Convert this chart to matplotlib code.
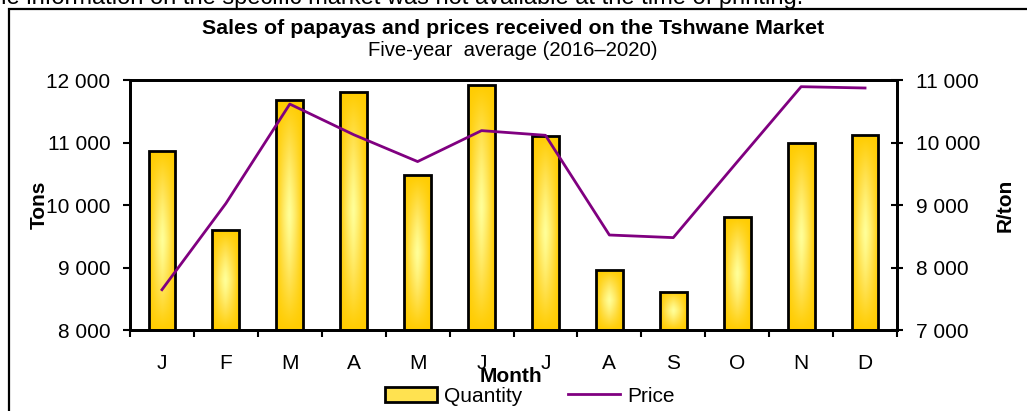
import numpy as np
import matplotlib
matplotlib.use("Agg")
import matplotlib.pyplot as plt
from matplotlib.colors import LinearSegmentedColormap
from matplotlib.patches import Rectangle
from matplotlib.ticker import FuncFormatter, MultipleLocator, FixedLocator

plt.rcParams['font.family'] = ['Liberation Sans', 'DejaVu Sans']

months = ["J", "F", "M", "A", "M", "J", "J", "A", "S", "O", "N", "D"]
quantity = [10870, 9595, 11675, 11810, 10480, 11915, 11110, 8960, 8612, 9805, 10990, 11115]
price = [7645, 9025, 10615, 10125, 9695, 10190, 10115, 8520, 8478, 9690, 10893, 10872]

W, H = 1027, 411
fig = plt.figure(figsize=(W / 100, H / 100), dpi=100)
ax = fig.add_axes([130 / W, 1 - 330 / H, (897 - 130) / W, (330 - 80) / H])
ax2 = ax.twinx()

x = np.arange(len(months))
bars = ax.bar(x, quantity, width=0.42, facecolor='none', edgecolor='black',
              linewidth=2.0, zorder=3)
ax.set_xlim(-0.5, len(months) - 0.5)
ax.set_ylim(8000, 12000)

cmap = LinearSegmentedColormap.from_list('gold', ['#FFFF99', '#FFE250', '#FFCC00'])
gu = np.linspace(-1, 1, 60)
gv = np.linspace(-1, 1, 200)
U, V = np.meshgrid(gu, gv)
grad = 1 - (1 - np.abs(U) ** 1.3) * (1 - np.abs(V) ** 1.3)
for b in bars:
    x0, w, h = b.get_x(), b.get_width(), b.get_height()
    im = ax.imshow(grad, cmap=cmap, vmin=0, vmax=1, aspect='auto',
                   extent=[x0, x0 + w, ax.get_ylim()[0], h], origin='lower',
                   zorder=2, interpolation='bilinear')
    im.set_clip_path(b)
ax.set_xlim(-0.5, len(months) - 0.5)
ax.set_ylim(8000, 12000)
ax.set_aspect('auto')

ax2.plot(x, price, color='#800080', linewidth=2.0, zorder=4)
ax2.set_ylim(7000, 11000)

fmt = FuncFormatter(lambda v, p: f"{int(v):,}".replace(",", " "))
ax.yaxis.set_major_locator(MultipleLocator(1000))
ax.yaxis.set_major_formatter(fmt)
ax2.yaxis.set_major_locator(MultipleLocator(1000))
ax2.yaxis.set_major_formatter(fmt)

ax.set_xticks(x)
ax.set_xticklabels(months)
ax.xaxis.set_minor_locator(FixedLocator(np.arange(-0.5, len(months), 1.0)))
ax.tick_params(axis='x', which='major', length=0, pad=17, labelsize=15)
ax.tick_params(axis='x', which='minor', length=5, width=1.5, direction='out')
ax.tick_params(axis='y', length=5, width=1.5, direction='out', pad=9, labelsize=15)
ax2.tick_params(axis='y', length=8, width=1.5, direction='inout', pad=10, labelsize=15)

for a in (ax, ax2):
    for s in a.spines.values():
        s.set_linewidth(2.0)
        s.set_color('black')

ax.set_ylabel("Tons", fontsize=15, fontweight='bold')
ax.yaxis.set_label_coords(-0.106, 0.5)
ax2.set_ylabel("R/ton", fontsize=15, fontweight='bold')
ax2.yaxis.set_label_coords(1.128, 0.5)
ax.set_xlabel("Month", fontsize=15, fontweight='bold')
ax.xaxis.set_label_coords(0.497, -0.148)

fig.text(513 / W, 1 - 28 / H, "Sales of papayas and prices received on the Tshwane Market",
         ha='center', va='center', fontsize=15.4, fontweight='bold')
fig.text(513 / W, 1 - 51 / H, "Five-year  average (2016\u20132020)",
         ha='center', va='center', fontsize=14.6)
fig.text(803 / W, 1 - 4 / H,
         "Reliable information on the specific market was not available at the time of printing.",
         ha='right', va='baseline', fontsize=17)

fig.add_artist(Rectangle((9 / W, -0.2), 1.5, 1 - 9 / H + 0.2, transform=fig.transFigure,
                         facecolor='none', edgecolor='black', linewidth=1.6))

qh = Rectangle((0, 0), 1, 1, facecolor='#FFE250', edgecolor='black', linewidth=2.0)
ph, = ax2.plot([], [], color='#800080', linewidth=2.0)
fig.legend([qh, ph], ["Quantity", "Price"], loc='center', ncol=2,
           bbox_to_anchor=(530 / W, 1 - 396 / H), frameon=False, fontsize=15,
           handlelength=2.5, handletextpad=0.35, columnspacing=2.2,
           borderpad=0.1)

fig.savefig("out.png", dpi=100)
